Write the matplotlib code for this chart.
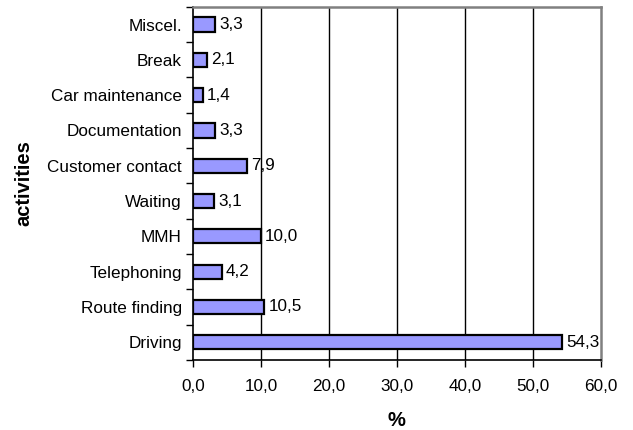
import matplotlib.pyplot as plt
import numpy as np

plt.rcParams["font.family"] = ["Liberation Sans", "DejaVu Sans"]

activities = ["Driving", "Route finding", "Telephoning", "MMH", "Waiting",
              "Customer contact", "Documentation", "Car maintenance", "Break", "Miscel."]
shares = [54.3, 10.5, 4.2, 10.0, 3.1, 7.9, 3.3, 1.4, 2.1, 3.3]
x_ticks = [0, 10, 20, 30, 40, 50, 60]


def comma(v):
    return f"{v:.1f}".replace(".", ",")


fig = plt.figure(figsize=(6.33, 4.30), dpi=100)
ax = fig.add_axes([0.305, 0.163, 0.644, 0.821])

y = np.arange(len(activities))
ax.barh(y, shares, height=0.4, color="#9999FF", edgecolor="black", linewidth=1.6, zorder=3)
for yi, v in zip(y, shares):
    ax.text(v + 0.6, yi, comma(v), va="center", ha="left", fontsize=12.3, zorder=4)

ax.set_xlim(0, 60)
ax.set_ylim(-0.5, len(activities) - 0.5)
ax.set_xticks(x_ticks)
ax.set_xticklabels([comma(t) for t in x_ticks], fontsize=12.3)
ax.set_yticks(y)
ax.set_yticklabels(activities, fontsize=12.3)
ax.set_yticks(np.arange(len(activities) + 1) - 0.5, minor=True)
ax.tick_params(axis="y", which="major", length=0, pad=8)
ax.tick_params(axis="y", which="minor", length=5, width=1, direction="out")
ax.tick_params(axis="x", length=5, width=1, direction="out", pad=9)

for t in x_ticks[1:-1]:
    ax.axvline(t, color="black", linewidth=1, zorder=1)

ax.spines["left"].set_linewidth(1.2)
ax.spines["bottom"].set_linewidth(1.2)
for side in ("top", "right"):
    ax.spines[side].set_color("#808080")
    ax.spines[side].set_linewidth(1.8)

ax.set_xlabel("%", fontsize=14.5, fontweight="bold", labelpad=12)
ax.set_ylabel("activities", fontsize=14.5, fontweight="bold", labelpad=10)

fig.savefig("out.png", dpi=100)
